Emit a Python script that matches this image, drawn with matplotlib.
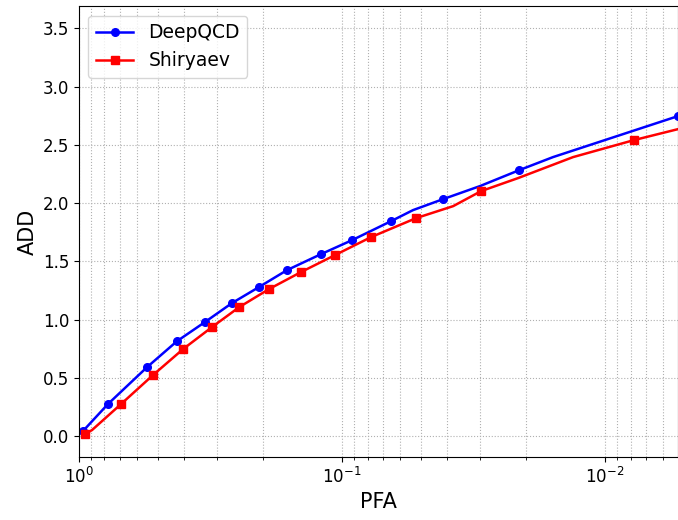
import numpy as np
import matplotlib
matplotlib.use('Agg')
import matplotlib.pyplot as plt

# DeepQCD curve (PFA, ADD), markers on a subset of points
pfa_deep = [0.966, 0.776, 0.551, 0.424, 0.332, 0.262, 0.207, 0.1618, 0.1202, 0.0916,
            0.0651, 0.0537, 0.0413, 0.0299, 0.0212, 0.01577, 0.00528]
add_deep = [0.043, 0.275, 0.592, 0.815, 0.979, 1.142, 1.279, 1.425, 1.562, 1.682,
            1.845, 1.940, 2.034, 2.146, 2.283, 2.395, 2.747]
mark_deep = [0, 1, 2, 3, 4, 5, 6, 7, 8, 9, 10, 12, 14, 16]

# Shiryaev curve
pfa_shir = [0.949, 0.892, 0.692, 0.523, 0.402, 0.312, 0.246, 0.1895, 0.1432, 0.1063,
            0.0776, 0.0523, 0.0378, 0.0296, 0.0214, 0.01323, 0.00776, 0.00528]
add_shir = [0.017, 0.052, 0.275, 0.524, 0.747, 0.936, 1.107, 1.262, 1.408, 1.554,
            1.708, 1.871, 1.974, 2.103, 2.215, 2.395, 2.541, 2.635]
mark_shir = [0, 2, 3, 4, 5, 6, 7, 8, 9, 10, 11, 13, 16]

fig = plt.figure(figsize=(6.78, 5.2), dpi=100)
ax = fig.add_axes([0.1165, 0.121, 0.8835, 0.867])

ax.plot(pfa_deep, add_deep, color='blue', marker='o', markersize=5.5, linewidth=1.8,
        markevery=mark_deep, label='DeepQCD')
ax.plot(pfa_shir, add_shir, color='red', marker='s', markersize=5.5, linewidth=1.8,
        markevery=mark_shir, label='Shiryaev')

ax.set_xscale('log')
ax.set_xlim(1, 0.00528)
ax.set_ylim(-0.18, 3.69)
ax.set_yticks(np.arange(0, 3.51, 0.5))
ax.grid(True, which='both', linestyle=':', color='#b0b0b0', linewidth=0.8)
ax.tick_params(labelsize=12)
ax.set_xlabel('PFA', fontsize=15)
ax.set_ylabel('ADD', fontsize=15)
ax.legend(loc='upper left', fontsize=13.5)

fig.savefig('out.png', dpi=100)
